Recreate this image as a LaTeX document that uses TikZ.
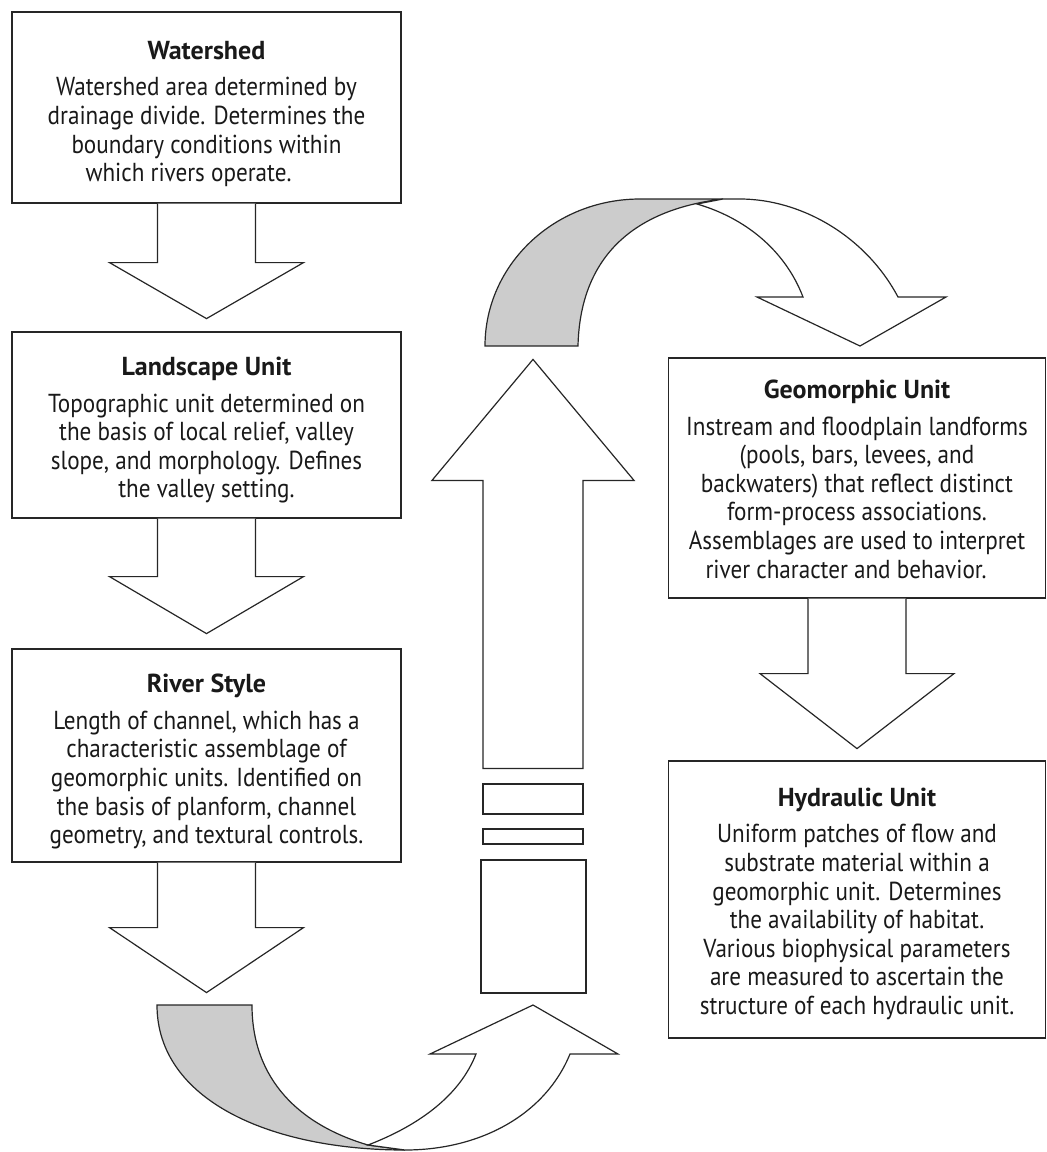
\documentclass[tikz,border=0pt]{standalone}
\usepackage{fontspec}
\setmainfont{PT Sans}
\newfontfamily\unitbodyfont{PT Sans}[FakeStretch=0.89]
\newfontfamily\unitheadfont{PT Sans}
\usetikzlibrary{calc}
\usetikzlibrary{positioning}
\tikzset{unit/.style={rectangle,draw=black!85,line width=1.2pt,fill=white,align=center,inner sep=0pt,text=black!90,font=\unitbodyfont\fontsize{26}{28.6}\selectfont}}
\newcommand{\unittitle}[2][31]{{\unitheadfont\bfseries\rule{0pt}{#1pt}#2}\\[8pt]}

\begin{document}
\begin{tikzpicture}[x=1pt,y=-1pt]
  % some styles
  \tikzset{
    blockarrow/.style={draw=black!85,line width=1.2pt,fill=white,line join=miter},
    backside/.style={draw=black!85,line width=1.2pt,fill=black!20},
    bar/.style={rectangle,draw=black!85,line width=1.2pt,fill=white,inner sep=0pt}
  }
\useasboundingbox (0,0) rectangle (1047,1152);

% the five units
\node[unit,minimum width=389,minimum height=191] (ws) at (206.5,107.5) {\unittitle{Watershed}
  Watershed area determined by\\ drainage divide. Determines the\\ boundary conditions within\\ which rivers operate.\hspace*{36pt}};
\node[unit,minimum width=389,minimum height=186] (ls) at (206.5,425) {\unittitle[29]{Landscape Unit}
  Topographic unit determined on\\ the basis of local relief, valley\\ slope, and morphology. Defines\\ the valley setting.};
\node[unit,minimum width=389,minimum height=213] (rs) at (206.5,755.5) {\unittitle{River Style}
  Length of channel, which has a\\ characteristic assemblage of\\ geomorphic units. Identified on\\ the basis of planform, channel\\ geometry, and textural controls.};
\node[unit,minimum width=377,minimum height=240] (gu) at (857,478) {\unittitle[21]{Geomorphic Unit}
  Instream and floodplain landforms\\ (pools, bars, levees, and\\ backwaters) that reflect distinct\\ form-process associations.\\ Assemblages are used to interpret\\ river character and behavior.\hspace*{22pt}};
\node[unit,minimum width=377,minimum height=277] (hu) at (857,899.5) {\unittitle[27]{Hydraulic Unit}
  Uniform patches of flow and\\ substrate material within a\\ geomorphic unit. Determines\\ the availability of habitat.\\ Various biophysical parameters\\ are measured to ascertain the\\ structure of each hydraulic unit.};

% down arrows below the boxes
\foreach \n/\s/\h in {ws/59/56,ls/58/57,rs/65/65,gu/75/75} {
  \draw[blockarrow] ($(\n.south)+(-49,0)$) -- ++(0,\s) -- ++(-48,0) -- ++(97,\h)
    -- ++(97,-\h) -- ++(-48,0) -- ++(0,-\s);
}

% broken shaft of the rising arrow
\node[bar,minimum width=100,minimum height=30] (bar1) at (533,799) {};
\node[bar,minimum width=100,minimum height=15] (bar2) at (533,836.5) {};
\node[bar,minimum width=105,minimum height=133] (base) at (533.5,926.5) {};
\draw[blockarrow] ($(bar1.north)+(-50,-15)$) -- ++(0,-288) -- ++(-51,0) -- ++(101,-121)
  -- ++(101,121) -- ++(-51,0) -- ++(0,288) -- cycle;

% lower u-turn
\draw[backside] (157,1005) -- (252,1005) .. controls (252,1080) and (300,1125) .. (368,1145)
  -- (405,1150) .. controls (270,1150) and (157,1100) .. (157,1005) -- cycle;
\draw[blockarrow] (368,1145) .. controls (420,1125) and (460,1095) .. (476,1054) -- (430,1054)
  -- (533,1005) -- (618,1054) -- (570,1054) .. controls (545,1115) and (480,1150) .. (405,1150) -- cycle;

% upper u-turn
\draw[backside] (485,346) .. controls (485,265) and (554,199) .. (640,199) -- (723,199)
  .. controls (630,210) and (580,260) .. (578,346) -- cycle;
\draw[blockarrow] (697,204) .. controls (745,218) and (785,250) .. (803,297) -- (757,297)
  -- (860,346) -- (946,297) -- (898,297) .. controls (865,235) and (800,199) .. (740,199) -- (723,199) -- cycle;

\end{tikzpicture}
\end{document}
